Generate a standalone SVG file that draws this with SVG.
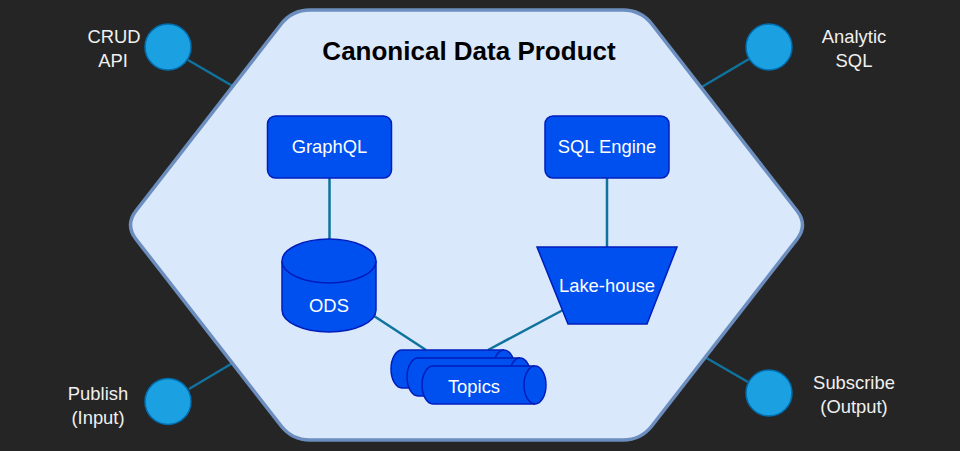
<svg xmlns="http://www.w3.org/2000/svg" width="960" height="451" viewBox="0 0 960 451">
<style>
.lbl{font-family:"Liberation Sans",Arial,sans-serif;font-size:18.4px;fill:#f0f0f0;text-anchor:middle}
.in{font-family:"Liberation Sans",Arial,sans-serif;font-size:18.4px;fill:#ffffff;text-anchor:middle}
.title{font-family:"Liberation Sans",Arial,sans-serif;font-size:26px;font-weight:bold;fill:#000000;text-anchor:middle}
.port{fill:#1ba1e2;stroke:#006eaf;stroke-width:1.5}
.blue{fill:#0050ef;stroke:#001dbc;stroke-width:1.5}
.edge{stroke:#10739e;stroke-width:2.5;fill:none}
</style>
<rect x="0" y="0" width="960" height="451" fill="#252525"/>
<g id="connectors">
<line class="edge" x1="188" y1="60" x2="236" y2="88"/>
<line class="edge" x1="749" y1="59" x2="700" y2="88"/>
<line class="edge" x1="189" y1="389" x2="236" y2="361"/>
<line class="edge" x1="748" y1="382" x2="703" y2="356"/>
</g>
<g id="product">
<path d="M310,10 L623,10 Q641,10 652,24.2 L797,210.8 Q808,225 797,239.2 L652,425.8 Q641,440 623,440 L310,440 Q292,440 281,425.8 L136,239.2 Q125,225 136,210.8 L281,24.2 Q292,10 310,10 Z" fill="#dae8fc" stroke="#6c8ebf" stroke-width="3.5"/>
<text class="title" x="469" y="60">Canonical Data Product</text>
</g>
<g id="inner-connectors">
<line class="edge" x1="329.5" y1="178" x2="329.5" y2="239"/>
<line class="edge" x1="607" y1="178" x2="607" y2="247"/>
<line class="edge" x1="374" y1="316" x2="426" y2="350"/>
<line class="edge" x1="563" y1="310" x2="488" y2="350"/>
</g>
<g id="crud-api">
<circle class="port" cx="168" cy="47" r="23"/>
<text class="lbl" x="114" y="42.5">CRUD</text>
<text class="lbl" x="113" y="66.5">API</text>
</g>
<g id="analytic-sql">
<circle class="port" cx="769" cy="47" r="23"/>
<text class="lbl" x="854" y="42.5">Analytic</text>
<text class="lbl" x="854" y="66.5">SQL</text>
</g>
<g id="publish">
<circle class="port" cx="168" cy="401.5" r="23"/>
<text class="lbl" x="98" y="400">Publish</text>
<text class="lbl" x="98" y="424">(Input)</text>
</g>
<g id="subscribe">
<circle class="port" cx="769" cy="393" r="23"/>
<text class="lbl" x="854" y="389">Subscribe</text>
<text class="lbl" x="854" y="413">(Output)</text>
</g>
<g id="graphql">
<rect class="blue" x="267.5" y="116" width="124" height="62" rx="8"/>
<text class="in" x="329.5" y="153">GraphQL</text>
</g>
<g id="sql-engine">
<rect class="blue" x="545" y="116" width="124" height="62" rx="8"/>
<text class="in" x="607" y="153">SQL Engine</text>
</g>
<g id="ods">
<path class="blue" d="M282,261 A47,22 0 0 1 376,261 L376,310 A47,22 0 0 1 282,310 Z"/>
<path class="blue" d="M282,261 A47,22 0 0 0 376,261" fill="none"/>
<text class="in" x="329" y="312">ODS</text>
</g>
<g id="lake-house">
<polygon class="blue" points="537,247 677,247 647,324 568,324"/>
<text class="in" x="607" y="292">Lake-house</text>
</g>
<g id="topics">
<path class="blue" d="M402,350 L504,350 A11,19 0 0 1 504,388 L402,388 A11,19 0 0 1 402,350 Z"/>
<path d="M504,350 A11,19 0 0 0 504,388" fill="none" stroke="#001dbc" stroke-width="1.5"/>
<path class="blue" d="M418,358 L520,358 A11,19 0 0 1 520,396 L418,396 A11,19 0 0 1 418,358 Z"/>
<path d="M520,358 A11,19 0 0 0 520,396" fill="none" stroke="#001dbc" stroke-width="1.5"/>
<path class="blue" d="M433,366 L535,366 A11,19 0 0 1 535,404 L433,404 A11,19 0 0 1 433,366 Z"/>
<path d="M535,366 A11,19 0 0 0 535,404" fill="none" stroke="#001dbc" stroke-width="1.5"/>
<text class="in" x="474" y="393">Topics</text>
</g>
</svg>
